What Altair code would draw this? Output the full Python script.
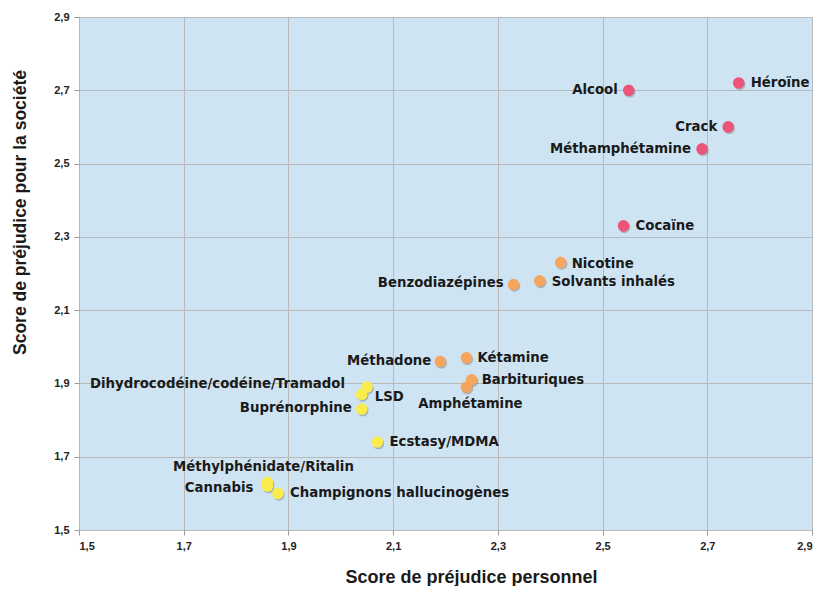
import altair as alt
import pandas as pd

# ---- données ----
drogues = [
    "Héroïne", "Alcool", "Crack", "Méthamphétamine", "Cocaïne",
    "Nicotine", "Solvants inhalés", "Benzodiazépines", "Méthadone",
    "Kétamine", "Barbituriques", "Amphétamine",
    "Dihydrocodéine/codéine/Tramadol", "LSD", "Buprénorphine",
    "Ecstasy/MDMA", "Méthylphénidate/Ritalin", "Cannabis",
    "Champignons hallucinogènes",
]
prejudice_personnel = [
    2.76, 2.55, 2.74, 2.69, 2.54,
    2.42, 2.38, 2.33, 2.19,
    2.24, 2.25, 2.24,
    2.05, 2.04, 2.04,
    2.07, 1.86, 1.86,
    1.88,
]
prejudice_societe = [
    2.72, 2.70, 2.60, 2.54, 2.33,
    2.23, 2.18, 2.17, 1.96,
    1.97, 1.91, 1.89,
    1.89, 1.87, 1.83,
    1.74, 1.63, 1.62,
    1.60,
]
groupe = [
    "élevé", "élevé", "élevé", "élevé", "élevé",
    "moyen", "moyen", "moyen", "moyen",
    "moyen", "moyen", "moyen",
    "faible", "faible", "faible",
    "faible", "faible", "faible",
    "faible",
]
graduations = [1.5, 1.7, 1.9, 2.1, 2.3, 2.5, 2.7, 2.9]

# ---- placement des étiquettes (style) ----
cote = [
    "d", "g", "g", "g", "d",
    "d", "d", "g", "g",
    "d", "d", "c",
    "g", "d", "g",
    "d", "c", "g",
    "d",
]
decal_x = [12, -11, -11, -11, 12, 11, 12, -10, -9, 11, 10, 4, -22, 13, -10, 12, -4, -14, 12]
decal_y = [0, 0, 0, 0, 0, 1, 1, -1, 0, 0, 0, 17, -3, 3, -1, 0, -15, 2, 0]

df = pd.DataFrame({
    "drogue": drogues,
    "perso": prejudice_personnel,
    "societe": prejudice_societe,
    "groupe": groupe,
})

W, H = 733, 513
lbl = "replace(format(datum.value, '.1f'), '.', ',')"

x_enc = alt.X(
    "perso:Q",
    scale=alt.Scale(domain=[1.5, 2.9], nice=False, zero=False),
    axis=alt.Axis(
        values=graduations, labelExpr=lbl, title="Score de préjudice personnel",
        titleX=392, titleY=38, titleBaseline="top", titleAnchor="start",
        titleAlign="center",
    ),
)
y_enc = alt.Y(
    "societe:Q",
    scale=alt.Scale(domain=[1.5, 2.9], nice=False, zero=False),
    axis=alt.Axis(
        values=graduations, labelExpr=lbl, title="Score de préjudice pour la société",
        titleX=-59, titleY=195, titleBaseline="middle", titleAngle=-90,
        titleAlign="center", titleFontSize=17.5,
    ),
)

couleurs = alt.Scale(
    domain=["élevé", "moyen", "faible"],
    range=["#ec5479", "#f6a55f", "#f9ec4c"],
)

base = alt.Chart(df)

ombre = base.mark_circle(size=135, opacity=0.35, color="#5a5a5a", xOffset=1, yOffset=1.5).encode(
    x=x_enc, y=y_enc,
)

points = base.mark_circle(size=135, opacity=1).encode(
    x=x_enc, y=y_enc,
    color=alt.Color("groupe:N", scale=couleurs, legend=None),
)

alignements = {"d": "left", "g": "right", "c": "center"}
couches_texte = []
combos = sorted(set(zip(cote, decal_x, decal_y)))
for (c, dx, dy) in combos:
    noms = [n for n, cc, x, y in zip(drogues, cote, decal_x, decal_y) if (cc, x, y) == (c, dx, dy)]
    couches_texte.append(
        base.transform_filter(alt.FieldOneOfPredicate(field="drogue", oneOf=noms)).mark_text(
            align=alignements[c], baseline="middle", dx=dx, dy=dy,
            font="DejaVu Sans", fontWeight="bold", fontSize=13.3, color="#1a1a1a",
        ).encode(x=x_enc, y=y_enc, text="drogue:N")
    )

chart = alt.layer(
    ombre, points, *couches_texte,
).properties(
    width=W, height=H,
    autosize=alt.AutoSizeParams(type="none"),
    padding={"left": 71, "top": 9, "right": 4, "bottom": 56},
    background="white",
).configure_view(
    fill="#cfe4f2", stroke="#b5b5b5", strokeWidth=1,
).configure_axis(
    grid=True, gridColor="#b7b9bb", gridWidth=1,
    domain=False, tickColor="#9a9a9a", tickSize=5,
    labelFont="Liberation Sans Narrow, Liberation Sans", labelFontWeight="bold",
    labelFontSize=11, labelColor="#222222", labelPadding=5,
    titleFont="Liberation Sans", titleFontWeight="bold", titleFontSize=18,
    titleColor="#1a1a1a",
)

chart.save("out.html", embed_options={"renderer": "svg", "actions": False})
